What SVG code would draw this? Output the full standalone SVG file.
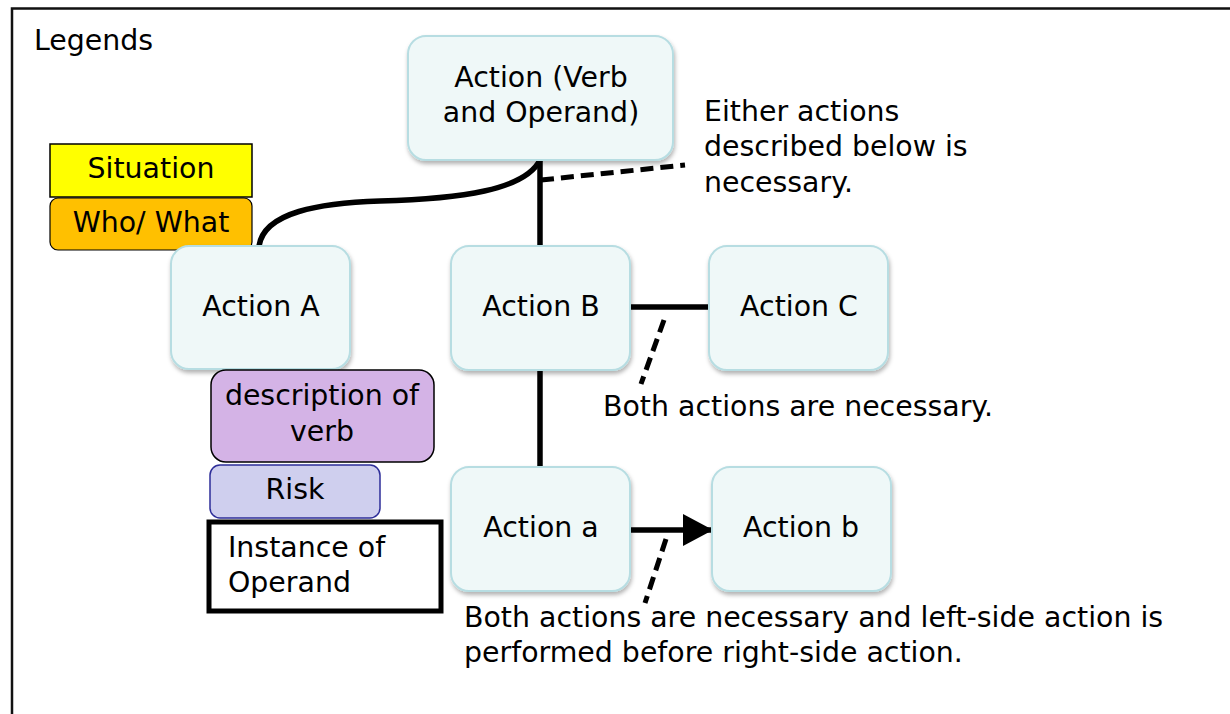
<svg xmlns="http://www.w3.org/2000/svg" width="1230" height="714" viewBox="0 0 1230 714">
<defs>
<filter id="sh" x="-10%" y="-10%" width="130%" height="130%">
<feDropShadow dx="1" dy="3" stdDeviation="2" flood-color="#000" flood-opacity="0.3"/>
</filter>
<marker id="arr" markerWidth="30" markerHeight="32" refX="29" refY="16" orient="auto" markerUnits="userSpaceOnUse">
<path d="M0,0 L30,16 L0,32 Z" fill="#000"/>
</marker>
<style>
text{font-family:"DejaVu Sans","Liberation Sans",sans-serif;font-size:28.4px;fill:#000}
.c{text-anchor:middle}
.act{fill:#eff8f8;stroke:#b7dde2;stroke-width:2;filter:url(#sh)}
.ln{fill:none;stroke:#000;stroke-width:5.5}
.dash{fill:none;stroke:#000;stroke-width:5;stroke-dasharray:13,7}
</style>
</defs>
<rect width="1230" height="714" fill="#fff"/>
<g id="frame"><path d="M12,714 L12,8.5 L1230,8.5" fill="none" stroke="#111" stroke-width="2.5"/></g>
<text x="34" y="50">Legends</text>
<g id="connectors">
<path class="ln" d="M259,246 C264,212 320,203 380,201 C460,199 525,190 540,160"/>
<line class="ln" x1="540" y1="160" x2="540" y2="246"/>
<path class="dash" d="M541,180 L685,165"/>
<line class="ln" x1="630" y1="307" x2="710" y2="307"/>
<path class="dash" d="M664,320 L641,384"/>
<line class="ln" x1="540" y1="370" x2="540" y2="468"/>
<line class="ln" x1="630" y1="530" x2="712" y2="530" marker-end="url(#arr)"/>
<path class="dash" d="M666,539 L645,603"/>
</g>
<g id="legend-situation"><rect x="50" y="144" width="202" height="53" fill="#ffff00" stroke="#000" stroke-width="1.5"/><text class="c" x="151" y="178">Situation</text></g>
<g id="legend-who"><rect x="50" y="198" width="202" height="52" rx="8" fill="#ffc000" stroke="#000" stroke-width="1.2"/><text class="c" x="151" y="232">Who/ What</text></g>
<g id="action-top"><rect class="act" x="408" y="36" width="265" height="124" rx="18"/><text class="c" x="541" y="87">Action (Verb</text><text class="c" x="541" y="122">and Operand)</text></g>
<g id="note-either"><text x="704" y="121">Either actions</text><text x="704" y="156">described below is</text><text x="704" y="192">necessary.</text></g>
<g id="action-A"><rect class="act" x="171" y="246" width="179" height="123" rx="18"/><text class="c" x="261" y="316">Action A</text></g>
<g id="action-B"><rect class="act" x="451" y="246" width="179" height="124" rx="18"/><text class="c" x="541" y="316">Action B</text></g>
<g id="action-C"><rect class="act" x="709" y="246" width="179" height="124" rx="18"/><text class="c" x="799" y="316">Action C</text></g>
<g id="legend-desc"><rect x="211" y="370" width="223" height="92" rx="15" fill="#d4b3e6" stroke="#000" stroke-width="1.5"/><text class="c" x="322" y="405">description of</text><text class="c" x="322" y="441">verb</text></g>
<g id="legend-risk"><rect x="210" y="465" width="170" height="53" rx="10" fill="#cfcfee" stroke="#2e2e99" stroke-width="1.5"/><text class="c" x="295" y="499">Risk</text></g>
<g id="legend-instance"><rect x="209" y="522" width="232" height="89" fill="#fff" stroke="#000" stroke-width="5"/><text x="228" y="557">Instance of</text><text x="228" y="592">Operand</text></g>
<g id="note-both"><text x="603" y="416">Both actions are necessary.</text></g>
<g id="action-a"><rect class="act" x="451" y="467" width="179" height="124" rx="18"/><text class="c" x="541" y="537">Action a</text></g>
<g id="action-b"><rect class="act" x="712" y="467" width="179" height="124" rx="18"/><text class="c" x="801" y="537">Action b</text></g>
<g id="note-order"><text x="464" y="627">Both actions are necessary and left-side action is</text><text x="464" y="662">performed before right-side action.</text></g>
</svg>
